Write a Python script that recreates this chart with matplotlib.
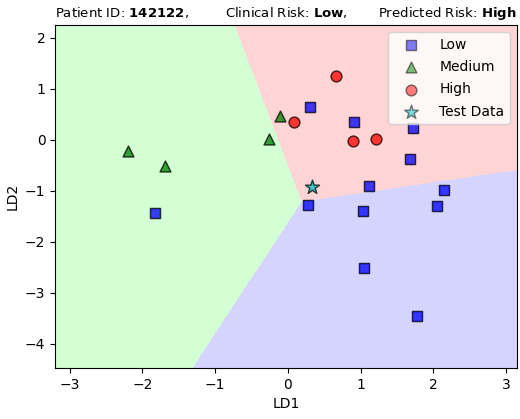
import numpy as np
import matplotlib
matplotlib.use('Agg')
import matplotlib.pyplot as plt
from matplotlib.colors import ListedColormap

# LD1 / LD2 coordinates
low_x = [-1.83, 0.31, 0.91, 1.72, 1.68, 1.11, 2.15, 0.28, 1.03, 2.05, 1.05, 1.77]
low_y = [-1.44, 0.65, 0.35, 0.23, -0.37, -0.90, -0.99, -1.28, -1.39, -1.29, -2.52, -3.46]
med_x = [-2.20, -1.69, -0.26, -0.11]
med_y = [-0.22, -0.52, 0.02, 0.46]
high_x = [0.08, 0.66, 0.89, 1.21]
high_y = [0.35, 1.26, -0.03, 0.02]
test_x = [0.33]
test_y = [-0.93]

# decision regions: junction of the three boundaries and the ray angles (deg)
junction = (0.19, -1.21)
ray_red_blue = 11.8
ray_red_green = 104.9
ray_green_blue = 245.3

xlim = (-3.2, 3.15)
ylim = (-4.47, 2.25)

fig, ax = plt.subplots(figsize=(5.2, 4.19), dpi=100)
fig.subplots_adjust(left=0.106, right=0.994, top=0.940, bottom=0.122)

# class map on a grid: 0 = red (High), 1 = green (Medium), 2 = blue (Low)
xx, yy = np.meshgrid(np.linspace(xlim[0], xlim[1], 800),
                     np.linspace(ylim[0], ylim[1], 800))
ang = np.degrees(np.arctan2(yy - junction[1], xx - junction[0])) % 360
zz = np.full(xx.shape, 2)
zz[(ang >= ray_red_blue) & (ang < ray_red_green)] = 0
zz[(ang >= ray_red_green) & (ang < ray_green_blue)] = 1
cmap_light = ListedColormap(['#FFAAAA', '#AAFFAA', '#AAAAFF'])
ax.pcolormesh(xx, yy, zz, cmap=cmap_light, alpha=0.5, shading='auto',
              vmin=0, vmax=2, rasterized=True)

# points drawn twice at alpha .5 (legend shows the single layer)
for i in range(2):
    ax.scatter(low_x, low_y, c='b', marker='s', s=55, edgecolors='k',
               alpha=0.5, label='Low' if i == 0 else None)
    ax.scatter(med_x, med_y, c='g', marker='^', s=60, edgecolors='k',
               alpha=0.5, label='Medium' if i == 0 else None)
    ax.scatter(high_x, high_y, c='r', marker='o', s=60, edgecolors='k',
               alpha=0.5, label='High' if i == 0 else None)
    ax.scatter(test_x, test_y, c='c', marker='*', s=110, edgecolors='k',
               alpha=0.5, label='Test Data' if i == 0 else None)

ax.set_xlim(xlim)
ax.set_ylim(ylim)
ax.set_xlabel('LD1')
ax.set_ylabel('LD2')
ax.set_xticks([-3, -2, -1, 0, 1, 2, 3])
ax.set_yticks([-4, -3, -2, -1, 0, 1, 2])

ax.set_title(r'Patient ID: $\bf{142122}$,', loc='left', fontsize=9.5, pad=6)
ax.set_title(r'Clinical Risk: $\bf{Low}$,', loc='center', fontsize=9.5, pad=6)
ax.set_title(r'Predicted Risk: $\bf{High}$', loc='right', fontsize=9.5, pad=6)

ax.legend(loc='upper right', labelspacing=0.6, handlelength=2.5,
          framealpha=0.8)

fig.savefig('out.png', dpi=100)
